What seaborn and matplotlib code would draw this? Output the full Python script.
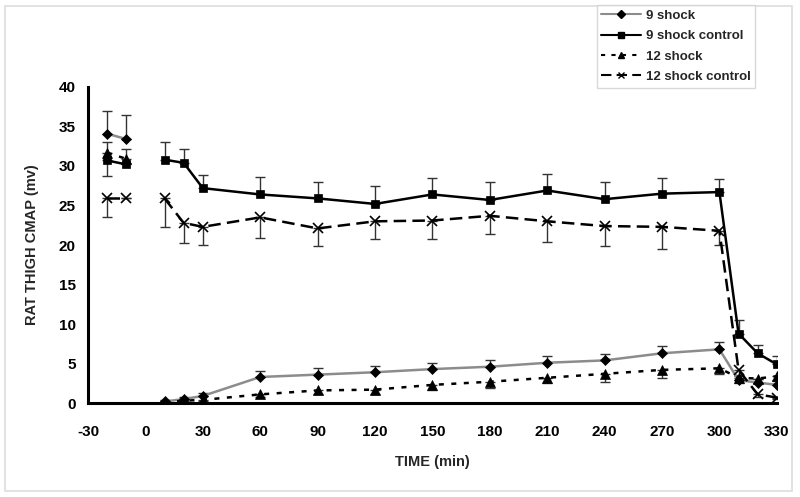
import numpy as np
import pandas as pd
import matplotlib
matplotlib.use("Agg")
import matplotlib.pyplot as plt
from matplotlib.lines import Line2D
from matplotlib.patches import Rectangle
import seaborn as sns

# ==========================================
# DATA
# ==========================================
TIME = [-20, -10, 10, 20, 30, 60, 90, 120, 150, 180, 210, 240, 270, 300, 310, 320, 330]

shock9 = [34.1, 33.4, 0.2, 0.5, 0.9, 3.3, 3.6, 3.9, 4.3, 4.6, 5.1, 5.4, 6.3, 6.8, 2.9, 2.6, 2.3]
shock9_err = [2.9, 3.0, 0.2, 0.3, 0.4, 0.8, 0.8, 0.8, 0.8, 0.8, 0.8, 0.8, 0.9, 0.9, 0.6, 0.5, 0.5]

shock9_ctrl = [30.7, 30.2, 30.8, 30.4, 27.2, 26.4, 25.9, 25.2, 26.4, 25.7, 26.9, 25.8, 26.5, 26.7, 8.8, 6.3, 4.9]
shock9_ctrl_err = [2.3, 1.9, 2.2, 1.7, 1.7, 2.2, 2.1, 2.3, 2.1, 2.3, 2.1, 2.2, 2.0, 1.7, 1.7, 1.1, 1.1]

shock12 = [31.7, 30.9, 0.1, 0.3, 0.4, 1.1, 1.6, 1.7, 2.3, 2.7, 3.2, 3.7, 4.2, 4.4, 3.2, 3.1, 3.4]
shock12_err = [3.0, 0.5, 0.1, 0.2, 0.2, 0.3, 0.4, 0.5, 0.6, 0.8, 0.7, 1.0, 1.0, 0.7, 0.6, 0.5, 0.5]

shock12_ctrl = [26.0, 26.0, 25.9, 22.8, 22.3, 23.5, 22.1, 23.0, 23.1, 23.7, 23.0, 22.4, 22.3, 21.8, 4.2, 1.1, 0.7]
shock12_ctrl_err = [2.5, 0.0, 3.6, 2.6, 2.3, 2.6, 2.2, 2.2, 2.4, 2.3, 2.6, 2.5, 2.8, 1.8, 0.8, 0.3, 0.2]

X_TICKS = [-30, 0, 30, 60, 90, 120, 150, 180, 210, 240, 270, 300, 330]
Y_TICKS = [0, 5, 10, 15, 20, 25, 30, 35, 40]

# (label, values, error, error side, line colour, marker, linestyle, marker size)
SERIES = [
    ("9 shock", shock9, shock9_err, "up", "#8c8c8c", "D", "-", 5.5),
    ("9 shock control", shock9_ctrl, shock9_ctrl_err, "up", "black", "s", "-", 6),
    ("12 shock", shock12, shock12_err, "down", "black", "^", (0, (2, 3)), 6.5),
    ("12 shock control", shock12_ctrl, shock12_ctrl_err, "down", "black", "x", (0, (5, 2.5)), 6.5),
]

sns.set_theme(style="white")
plt.rcParams['font.family'] = ['Liberation Sans', 'DejaVu Sans']
plt.rcParams['font.weight'] = 'bold'
plt.rcParams['axes.unicode_minus'] = False


def main():
    fig = plt.figure(figsize=(8.0, 4.97), dpi=100)
    ax = fig.add_axes([0.11, 0.189, 0.861, 0.636])

    handles = []
    for label, vals, err, side, color, marker, ls, ms in SERIES:
        df = pd.DataFrame({"time": TIME, "value": vals, "err": err})
        # the recording has a gap between -10 and 10 min, so draw two pieces
        df["segment"] = np.where(df["time"] < 0, 0, 1)

        lower = df["err"] if side == "down" else np.zeros(len(df))
        upper = df["err"] if side == "up" else np.zeros(len(df))
        ax.errorbar(df["time"], df["value"], yerr=[lower, upper], fmt="none",
                    ecolor="#333333", elinewidth=1.0, capsize=3.5, capthick=1.0,
                    zorder=1)

        for _, seg in df.groupby("segment"):
            sns.lineplot(data=seg, x="time", y="value", ax=ax, color=color,
                         linewidth=1.8, linestyle=ls, marker=marker,
                         markersize=ms, markerfacecolor="black",
                         markeredgecolor="black",
                         markeredgewidth=1.2 if marker == "x" else 0.5,
                         sort=True, zorder=3)

        handles.append(Line2D([0], [0], color=color, linewidth=1.5, linestyle=ls,
                              marker=marker, markersize=ms * 0.7,
                              markerfacecolor="black", markeredgecolor="black",
                              label=label))

    ax.set_xlim(-30, 330)
    ax.set_ylim(0, 40)
    ax.set_xticks(X_TICKS)
    ax.set_yticks(Y_TICKS)
    ax.tick_params(axis="both", labelsize=11, colors="black", length=5, width=2)
    ax.tick_params(axis="x", direction="inout", length=8, pad=12)
    ax.tick_params(axis="y", direction="out", pad=4)
    for lab in ax.get_xticklabels() + ax.get_yticklabels():
        lab.set_fontweight("bold")

    sns.despine(ax=ax)
    for side in ["left", "bottom"]:
        ax.spines[side].set_linewidth(2.2)
        ax.spines[side].set_color("black")

    ax.set_xlabel("TIME (min)", fontsize=10.5, fontweight="bold", labelpad=11)
    ax.set_ylabel("RAT THIGH CMAP (mv)", fontsize=10.5, fontweight="bold", labelpad=14)

    leg = fig.legend(handles=handles, loc="upper left",
                     bbox_to_anchor=(0.746, 0.99), frameon=True, fancybox=False,
                     handlelength=3.0, handletextpad=0.35, borderpad=0.35,
                     borderaxespad=0.0, labelspacing=0.62,
                     prop={"size": 9.5, "weight": "bold"})
    leg.get_frame().set_edgecolor("#d0d0d0")
    leg.get_frame().set_linewidth(1.0)

    # light frame round the whole picture
    fig.patches.append(Rectangle((0.006, 0.012), 0.984, 0.976, transform=fig.transFigure,
                                 fill=False, edgecolor="#dddddd", linewidth=1.2))

    fig.savefig("out.png", dpi=100)
    plt.close(fig)


if __name__ == "__main__":
    main()
